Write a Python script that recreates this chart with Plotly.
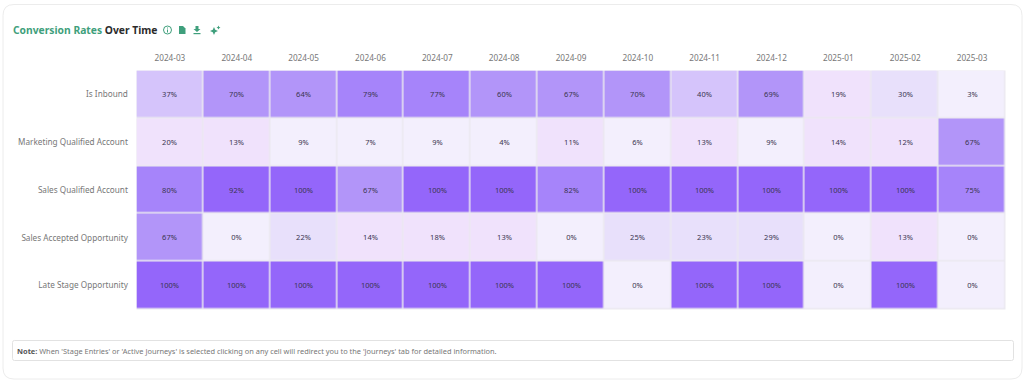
import plotly.graph_objects as go

months = ["2024-03","2024-04","2024-05","2024-06","2024-07","2024-08","2024-09","2024-10","2024-11","2024-12","2025-01","2025-02","2025-03"]
stages = ["Is Inbound","Marketing Qualified Account","Sales Qualified Account","Sales Accepted Opportunity","Late Stage Opportunity"]
is_inbound = [37,70,64,79,77,60,67,70,40,69,19,30,3]
mql = [20,13,9,7,9,4,11,6,13,9,14,12,67]
sql = [80,92,100,67,100,100,82,100,100,100,100,100,75]
sao = [67,0,22,14,18,13,0,25,23,29,0,13,0]
late = [100,100,100,100,100,100,100,0,100,100,0,100,0]
values = [is_inbound, mql, sql, sao, late]

W, H = 1024, 382
GREEN = "#3f9f7c"
def fx(x): return x / W
def fy(y): return 1 - y / H

bands = [(0,.105,"#f3effd"),(.105,.21,"#f0e2fc"),(.21,.35,"#e8e0fb"),(.35,.5,"#d5c4fb"),
         (.5,.735,"#b295f9"),(.735,.88,"#a684fa"),(.88,1,"#9466fa")]
scale = []
for a,b,c in bands:
    scale += [[a,c],[b,c]]

fig = go.Figure(go.Heatmap(
    z=values, x=months, y=stages, zmin=0, zmax=100, colorscale=scale, showscale=False,
    xgap=1.5, ygap=1.5, texttemplate="%{z}%", textfont=dict(size=7.5, color="#3a3550", family="Noto Sans"),
    hovertemplate="%{y}<br>%{x}: %{z}%<extra></extra>"))

def rrect(x0,y0,x1,y1,r):
    p = lambda x,y: f"{fx(x):.5f},{fy(y):.5f}"
    return (f"M{p(x0+r,y0)} L{p(x1-r,y0)} Q{p(x1,y0)} {p(x1,y0+r)} L{p(x1,y1-r)} Q{p(x1,y1)} {p(x1-r,y1)} "
            f"L{p(x0+r,y1)} Q{p(x0,y1)} {p(x0,y1-r)} L{p(x0,y0+r)} Q{p(x0,y0)} {p(x0+r,y0)} Z")

def pth(d, **k):
    return dict(type="path", xref="paper", yref="paper", path=d, layer="above", **k)

def poly(pts):
    return "M" + " L".join(f"{fx(x):.5f},{fy(y):.5f}" for x,y in pts) + " Z"

shapes = [
    pth(rrect(3,4.5,1022,379,11), line=dict(color="#ececec", width=1), fillcolor="rgba(0,0,0,0)"),
    pth(rrect(12.5,340.5,1013.5,360.5,2), line=dict(color="#e2e2e2", width=1), fillcolor="rgba(0,0,0,0)"),
    # info circle
    dict(type="circle", xref="paper", yref="paper", x0=fx(163.5), x1=fx(171.5), y0=fy(34), y1=fy(26),
         line=dict(color=GREEN, width=1)),
    pth(poly([(167,29.5),(168,29.5),(168,32.5),(167,32.5)]), line=dict(width=0), fillcolor=GREEN),
    pth(poly([(167,27.6),(168,27.6),(168,28.6),(167,28.6)]), line=dict(width=0), fillcolor=GREEN),
    # copy icon
    pth(poly([(179,26),(183,26),(185.5,28.5),(185.5,34),(179,34)]), line=dict(width=0), fillcolor=GREEN),
    # download icon
    pth(poly([(195.5,26),(198.5,26),(198.5,29),(200.5,29),(197,32),(193.5,29),(195.5,29)]), line=dict(width=0), fillcolor=GREEN),
    pth(poly([(193.5,33),(200.5,33),(200.5,34.2),(193.5,34.2)]), line=dict(width=0), fillcolor=GREEN),
    # sparkle icon
    pth(poly([(214,27),(215.2,29.8),(218,31),(215.2,32.2),(214,35),(212.8,32.2),(210,31),(212.8,29.8)]), line=dict(width=0), fillcolor=GREEN),
    pth(poly([(218.5,25.5),(219.2,27),(220.5,27.6),(219.2,28.2),(218.5,29.5),(217.8,28.2),(216.5,27.6),(217.8,27)]), line=dict(width=0), fillcolor=GREEN),
]

annotations = [
    dict(x=fx(10.5), y=fy(30), xref="paper", yref="paper", xanchor="left", yanchor="middle", showarrow=False,
         text=f"<b><span style='color:{GREEN}'>Conversion Rates</span> <span style='color:#2b2b2b'>Over Time</span></b>",
         font=dict(size=10.3, family="Noto Sans")),
    dict(x=fx(15), y=fy(350.5), xref="paper", yref="paper", xanchor="left", yanchor="middle", showarrow=False,
         text="<b style='color:#555'>Note:</b> When 'Stage Entries' or 'Active Journeys' is selected clicking on any cell will redirect you to the 'Journeys' tab for detailed information.",
         font=dict(size=7.4, color="#777", family="Noto Sans")),
]

fig.update_layout(
    width=W, height=H, margin=dict(l=0,r=0,t=0,b=0), paper_bgcolor="white", plot_bgcolor="#ebe9f0",
    font=dict(family="Noto Sans", size=8.2, color="#777"),
    shapes=shapes, annotations=annotations,
    xaxis=dict(domain=[fx(136.5),fx(1005.5)], side="top", type="category", tickmode="array", tickvals=months, ticktext=months,
               showgrid=False, zeroline=False, ticks="outside", ticklen=5,
               tickcolor="rgba(0,0,0,0)", anchor="y", tickfont=dict(size=8.2, color="#777")),
    yaxis=dict(domain=[fy(309.5),fy(70.5)], autorange="reversed", showgrid=False, zeroline=False, ticks="outside", ticklen=6,
               tickcolor="rgba(0,0,0,0)", anchor="x", tickfont=dict(size=8.2, color="#777")),
)
fig.write_html("out.html", config=dict(displayModeBar=False),
               post_script="document.body.style.margin='0';document.body.style.overflow='hidden';")
